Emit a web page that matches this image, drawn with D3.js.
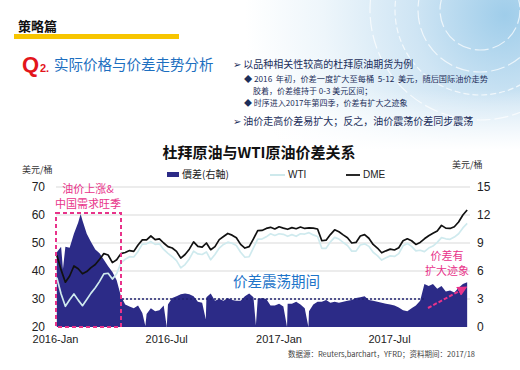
<!DOCTYPE html>
<html>
<head>
<meta charset="utf-8">
<script src="https://cdn.jsdelivr.net/npm/d3@7"></script>
<style>
  body { margin: 0; background: #fff; }
  svg { display: block; font-family: "Noto Sans CJK SC", "Liberation Sans", Arial, sans-serif; }
</style>
</head>
<body>
<svg width="520" height="370"></svg>
<script>
// weekly series, first point on Monday 2016-01-04
const firstWeek = "2016-01-04";
const dme = [45.6,40.4,36.0,38.2,41.8,40.8,39.0,39.8,41.2,42.3,
  44.2,46.2,45.7,43.0,44.0,46.2,46.6,47.3,47.0,49.3,
  51.1,51.1,52.5,51.2,51.5,50.0,48.7,48.2,47.0,44.6,
  45.9,47.8,50.4,48.8,48.5,50.0,47.6,48.7,51.2,52.3,
  53.4,52.8,51.9,49.5,48.2,48.7,51.5,54.4,54.5,55.2,
  55.6,55.0,55.8,55.3,54.9,55.5,55.1,55.7,55.2,55.4,
  55.3,55.0,50.8,51.0,53.0,54.7,54.0,52.9,51.9,50.0,
  50.2,52.5,53.0,51.7,49.5,48.2,46.5,47.2,47.8,47.5,
  48.3,50.8,51.5,50.8,49.5,50.2,51.5,52.6,53.5,54.3,
  56.3,55.3,55.2,55.8,57.5,60.0,61.8];
const wti = [37.6,31.8,27.4,29.7,31.8,29.6,27.6,29.8,32.1,34.0,
  36.3,39.0,39.2,37.1,39.0,42.9,44.2,45.1,45.0,47.0,
  49.6,49.7,50.5,49.5,49.7,47.7,46.3,45.1,43.7,41.1,
  42.3,44.3,47.1,46.1,45.9,46.8,44.0,45.9,48.2,49.5,
  50.3,49.9,49.1,46.7,44.9,45.1,48.3,51.4,51.4,52.2,
  53.3,52.7,53.3,53.1,52.4,53.0,52.4,53.3,53.2,53.7,
  52.9,52.3,48.1,48.1,50.4,52.0,51.4,50.2,49.1,47.1,
  47.1,49.3,49.7,48.8,46.7,45.5,43.9,44.7,45.4,45.2,
  46.2,49.0,49.8,48.8,47.2,47.4,46.9,48.2,48.9,50.2,
  51.9,51.5,51.3,52.1,53.3,55.4,57.0];
const spread = [8.0,8.6,8.6,8.5,10.0,11.2,11.4,10.0,9.1,8.3,
  7.9,7.2,6.5,5.9,5.0,3.3,2.4,2.2,2.0,2.3,
  1.5,1.4,2.0,1.7,1.8,2.3,2.4,3.1,3.3,3.5,
  3.6,3.5,3.3,2.7,2.6,3.2,3.6,2.8,3.0,2.8,
  3.1,2.9,2.8,2.8,3.3,3.6,3.2,3.0,3.1,3.0,
  2.3,2.3,2.5,2.2,2.5,2.5,2.7,2.4,2.0,1.7,
  2.4,2.7,2.7,2.9,2.6,2.7,2.6,2.7,2.8,2.9,
  3.1,3.2,3.3,2.9,2.8,2.7,2.6,2.5,2.4,2.3,
  2.1,1.8,1.7,2.0,2.3,2.8,4.6,4.4,4.6,4.1,
  4.4,3.8,3.9,3.7,4.2,4.6,4.8];
// single-day moves of the spread between the weekly points
const spreadDays = ["2016-01-14","2016-02-12","2016-05-28","2016-07-02","2016-09-04","2016-11-25","2017-01-15","2017-02-19"];
const spreadDayValues = [6.2, 12.1, 0.1, 0.0, 0.8, 0.2, 0.0, 0.0];

const leftTicks = [20, 30, 40, 50, 60, 70];
const rightTicks = [0, 3, 6, 9, 12, 15];
const xTickDates = ["2016-01-01", "2016-07-01", "2017-01-01", "2017-07-01"];
const xTickLabels = ["2016-Jan", "2016-Jul", "2017-Jan", "2017-Jul"];

const svg = d3.select("svg");
const parse = d3.timeParse("%Y-%m-%d");
const t0 = parse(firstWeek);
const weeks = dme.map((_, i) => d3.timeDay.offset(t0, 7 * i));

const x = d3.scaleTime().domain([parse("2016-01-01"), parse("2017-07-01")]).range([55, 389]);
const yL = d3.scaleLinear().domain([20, 70]).range([327, 187]);
const yR = d3.scaleLinear().domain([0, 15]).range([327, 187]);

// background decoration (top right)
const defs = svg.append("defs");
const rg = defs.append("radialGradient").attr("id", "bg").attr("gradientUnits", "userSpaceOnUse")
  .attr("cx", 505).attr("cy", 15).attr("r", 260);
rg.append("stop").attr("offset", "0%").attr("stop-color", "#9fcdea");
rg.append("stop").attr("offset", "35%").attr("stop-color", "#cfe5f4");
rg.append("stop").attr("offset", "70%").attr("stop-color", "#eef6fb");
rg.append("stop").attr("offset", "100%").attr("stop-color", "#ffffff");
svg.append("rect").attr("width", 520).attr("height", 150).attr("fill", "url(#bg)");
[40, 62, 85, 110].forEach(r => {
  svg.append("circle").attr("cx", 480).attr("cy", 10).attr("r", r)
    .attr("fill", "none").attr("stroke", "#ffffff").attr("stroke-opacity", 0.7)
    .attr("stroke-width", 1.2).attr("stroke-dasharray", r % 2 ? "6,3" : "14,4");
});
const fade = defs.append("linearGradient").attr("id", "fade").attr("x1", 0).attr("y1", 0).attr("x2", 0).attr("y2", 1);
fade.append("stop").attr("offset", "0%").attr("stop-color", "#fff").attr("stop-opacity", 0);
fade.append("stop").attr("offset", "100%").attr("stop-color", "#fff").attr("stop-opacity", 1);
svg.append("rect").attr("y", 90).attr("width", 520).attr("height", 60).attr("fill", "url(#fade)");

// header
svg.append("text").attr("x", 18).attr("y", 31).attr("font-size", 13).attr("font-weight", 700)
  .attr("fill", "#111").text("策略篇");
svg.append("rect").attr("x", 14).attr("y", 34).attr("width", 165).attr("height", 5).attr("fill", "#f7c500");
svg.append("text").attr("x", 22).attr("y", 72).attr("font-size", 22).attr("font-weight", 700)
  .attr("font-family", "Liberation Sans, Arial").attr("fill", "#e3151b").text("Q");
svg.append("text").attr("x", 40).attr("y", 72).attr("font-size", 11).attr("font-weight", 700)
  .attr("font-family", "Liberation Sans, Arial").attr("fill", "#e3151b").text("2.");
svg.append("text").attr("x", 54).attr("y", 70).attr("font-size", 14.5)
  .attr("fill", "#1d6fc0").text("实际价格与价差走势分析");

const note = svg.append("g").attr("fill", "#1c2e5a");
note.append("text").attr("x", 233).attr("y", 68).attr("font-size", 10).text("➢ 以品种相关性较高的杜拜原油期货为例");
note.append("text").attr("x", 244).attr("y", 82).attr("font-size", 8.2).attr("xml:space", "preserve")
  .text("◆ 2016  年初，价差一度扩大至每桶  5-12  美元，随后国际油价走势");
note.append("text").attr("x", 253).attr("y", 94).attr("font-size", 8).text("胶着，价差维持于 0-3 美元区间；");
note.append("text").attr("x", 244).attr("y", 106).attr("font-size", 8).text("◆ 时序进入2017年第四季，价差有扩大之迹象");
note.append("text").attr("x", 233).attr("y", 125).attr("font-size", 10).text("➢ 油价走高价差易扩大；反之，油价震荡价差同步震荡");

// chart title and units
svg.append("text").attr("x", 259).attr("y", 158).attr("text-anchor", "middle")
  .attr("font-size", 15).attr("font-weight", 700).attr("fill", "#111").text("杜拜原油与WTI原油价差关系");
svg.append("text").attr("x", 22).attr("y", 173).attr("font-size", 9).attr("fill", "#333").text("美元/桶");
svg.append("text").attr("x", 452).attr("y", 168).attr("font-size", 9).attr("fill", "#333").text("美元/桶");

// legend
const lg = svg.append("g").attr("font-size", 10).attr("fill", "#222");
lg.append("rect").attr("x", 167).attr("y", 172).attr("width", 12).attr("height", 5).attr("fill", "#2c2b87");
lg.append("text").attr("x", 182).attr("y", 178).text("價差(右軸)");
lg.append("line").attr("x1", 270).attr("x2", 285).attr("y1", 175).attr("y2", 175).attr("stroke", "#c9e7ea").attr("stroke-width", 1.8);
lg.append("text").attr("x", 288).attr("y", 178).attr("font-family", "Liberation Sans, Arial").text("WTI");
lg.append("line").attr("x1", 346).attr("x2", 360).attr("y1", 175).attr("y2", 175).attr("stroke", "#111").attr("stroke-width", 1.8);
lg.append("text").attr("x", 363).attr("y", 178).attr("font-family", "Liberation Sans, Arial").text("DME");

// gridlines
svg.append("g").selectAll("line").data(leftTicks.slice(1)).join("line")
  .attr("x1", 56).attr("x2", 470).attr("y1", d => yL(d)).attr("y2", d => yL(d))
  .attr("stroke", "#d9d9d9").attr("stroke-width", 1);

// spread area (right axis)
const spreadPts = weeks.map((d, i) => ({ date: d, v: spread[i] }))
  .concat(spreadDays.map((d, i) => ({ date: parse(d), v: spreadDayValues[i] })))
  .sort((a, b) => a.date - b.date);
const area = d3.area().x(d => x(d.date)).y0(yR(0)).y1(d => yR(d.v));
svg.append("path").datum(spreadPts).attr("d", area).attr("fill", "#2c2b87");

// lines (left axis)
const line = d3.line().x((d, i) => x(weeks[i])).y(d => yL(d));
svg.append("path").datum(wti).attr("d", line).attr("fill", "none")
  .attr("stroke", "#cfeaee").attr("stroke-width", 1.7).attr("stroke-linejoin", "round");
svg.append("path").datum(dme).attr("d", line).attr("fill", "none")
  .attr("stroke", "#111").attr("stroke-width", 1.7).attr("stroke-linejoin", "round");

// axes
const axFont = "Liberation Sans, Arial, sans-serif";
const axL = svg.append("g").attr("transform", "translate(48,0)")
  .call(d3.axisLeft(yL).tickValues(leftTicks).tickSize(0).tickPadding(3));
const axR = svg.append("g").attr("transform", "translate(474,0)")
  .call(d3.axisRight(yR).tickValues(rightTicks).tickSize(0).tickPadding(3));
const axB = svg.append("g").attr("transform", "translate(0,327)")
  .call(d3.axisBottom(x).tickValues(xTickDates.map(parse)).tickSize(0).tickPadding(8)
    .tickFormat((d, i) => xTickLabels[i]));
[axL, axR, axB].forEach(a => {
  a.select(".domain").remove();
  a.selectAll("text").attr("font-family", axFont).attr("font-size", 12).attr("fill", "#222");
});
axB.selectAll("text").attr("font-size", 11);
axL.selectAll("text").attr("dy", "0.28em");

// annotations
const pink = "#e8338a";
svg.append("rect").attr("x", 56).attr("y", 213).attr("width", 65).attr("height", 114)
  .attr("fill", "none").attr("stroke", pink).attr("stroke-width", 2).attr("stroke-dasharray", "4,3");
svg.append("text").attr("x", 88).attr("y", 193).attr("text-anchor", "middle").attr("font-size", 11)
  .attr("fill", pink).text("油价上涨&");
svg.append("text").attr("x", 88).attr("y", 208).attr("text-anchor", "middle").attr("font-size", 11)
  .attr("fill", pink).text("中国需求旺季");

svg.append("line").attr("x1", 122).attr("x2", 424).attr("y1", yR(3)).attr("y2", yR(3))
  .attr("stroke", "#1f2270").attr("stroke-width", 1.4).attr("stroke-dasharray", "2,2");
svg.append("text").attr("x", 233).attr("y", 287).attr("font-size", 14.5).attr("fill", "#1d74c9").text("价差震荡期间");

svg.append("text").attr("x", 447).attr("y", 260).attr("text-anchor", "middle").attr("font-size", 11)
  .attr("fill", pink).text("价差有");
svg.append("text").attr("x", 447).attr("y", 275).attr("text-anchor", "middle").attr("font-size", 11)
  .attr("fill", pink).text("扩大迹象");
defs.append("marker").attr("id", "arr").attr("viewBox", "0 0 10 10").attr("refX", 5).attr("refY", 5)
  .attr("markerWidth", 5).attr("markerHeight", 5).attr("orient", "auto")
  .append("path").attr("d", "M0,0L10,5L0,10z").attr("fill", pink);
svg.append("line").attr("x1", 428).attr("y1", 308).attr("x2", 463).attr("y2", 289)
  .attr("stroke", pink).attr("stroke-width", 2).attr("stroke-dasharray", "4,2").attr("marker-end", "url(#arr)");

// source
svg.append("text").attr("x", 475).attr("y", 357).attr("text-anchor", "end").attr("font-size", 7.5)
  .attr("fill", "#444").text("数据源：Reuters,barchart，YFRD；资料期间：2017/18");
</script>
</body>
</html>
